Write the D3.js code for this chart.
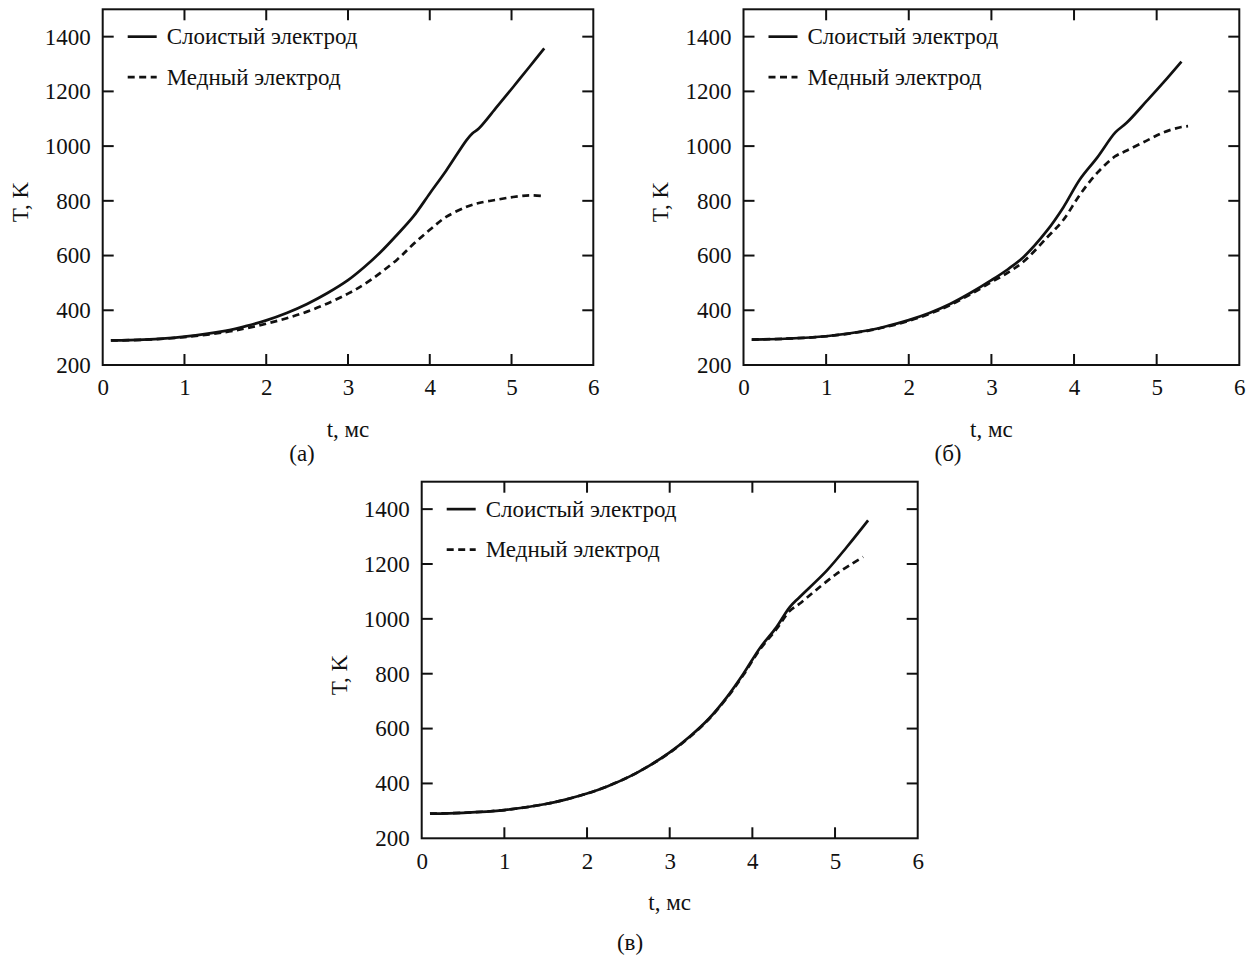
<!DOCTYPE html>
<html>
<head>
<meta charset="utf-8">
<script src="https://cdn.jsdelivr.net/npm/d3@7"></script>
<style>
  html, body { margin: 0; padding: 0; background: #fff; }
  svg { display: block; }
  text { font-family: "Liberation Serif", "Times New Roman", serif; fill: #111; }
</style>
</head>
<body>
<svg id="chart" width="1255" height="955"></svg>
<script>
// ---- Data ----
const seriesNames = ["Слоистый электрод", "Медный электрод"];
const xTicks = [0, 1, 2, 3, 4, 5, 6];
const yTicks = [200, 400, 600, 800, 1000, 1200, 1400];
const xLabel = "t, мс";
const yLabel = "T, K";
const panelLabels = ["(а)", "(б)", "(в)"];

// Panel (а)
const tA_layer = [0.1, 0.5, 1, 1.5, 1.75, 2, 2.25, 2.5, 2.75, 3, 3.2, 3.4, 3.6, 3.8, 4, 4.2, 4.45, 4.52, 4.6, 4.82, 5.02, 5.22, 5.4];
const TA_layer = [290, 293, 304, 325, 342, 363, 390, 423, 463, 510, 558, 613, 676, 743, 827, 910, 1022, 1046, 1064, 1143, 1216, 1290, 1357];
const tA_copper = [0.1, 0.5, 1, 1.5, 1.75, 2, 2.25, 2.5, 2.75, 3, 3.2, 3.6, 3.8, 4, 4.2, 4.45, 4.6, 4.82, 5.02, 5.22, 5.4];
const TA_copper = [290, 292, 302, 320, 334, 351, 371, 395, 425, 461, 495, 585, 642, 694, 741, 778, 792, 804, 814, 820, 817];

// Panel (б)
const tB_layer = [0.1, 0.5, 1, 1.5, 1.75, 2, 2.25, 2.5, 2.75, 3, 3.2, 3.39, 3.67, 3.87, 4.07, 4.28, 4.5, 4.64, 4.88, 5.08, 5.3];
const TB_layer = [293, 296, 305, 326, 343, 364, 390, 423, 464, 510, 550, 595, 690, 776, 878, 958, 1050, 1086, 1165, 1232, 1309];
const tB_copper = [0.1, 0.5, 1, 1.5, 1.75, 2, 2.25, 2.5, 2.75, 3, 3.2, 3.39, 3.67, 3.87, 4.07, 4.28, 4.5, 4.64, 4.88, 5.08, 5.3, 5.38];
const TB_copper = [293, 296, 305, 325, 341, 361, 387, 419, 459, 503, 538, 578, 665, 730, 822, 902, 963, 984, 1020, 1050, 1070, 1073];

// Panel (в)
const tC_layer = [0.1, 0.5, 1, 1.5, 1.75, 2, 2.25, 2.5, 2.75, 3, 3.25, 3.47, 3.69, 3.89, 4.09, 4.29, 4.45, 4.57, 4.9, 5.14, 5.4];
const TC_layer = [290, 293, 303, 325, 342, 363, 390, 423, 464, 513, 573, 635, 714, 799, 893, 969, 1042, 1079, 1176, 1261, 1359];
const tC_copper = [0.1, 0.5, 1, 1.5, 1.75, 2, 2.25, 2.5, 2.75, 3, 3.25, 3.47, 3.69, 3.89, 4.09, 4.29, 4.45, 4.57, 4.75, 5.0, 5.2, 5.34];
const TC_copper = [290, 293, 303, 325, 342, 363, 390, 423, 464, 512, 571, 633, 711, 795, 888, 962, 1028, 1055, 1100, 1160, 1200, 1226];

// ---- Layout ----
const panels = [
  { x0: 102.7, x1: 593.3, y0: 9.3, y1: 365, label: panelLabels[0], labelX: 302, labelY: 453,
    series: [[tA_layer, TA_layer], [tA_copper, TA_copper]] },
  { x0: 743.5, x1: 1239.3, y0: 9.3, y1: 365, label: panelLabels[1], labelX: 948, labelY: 453,
    series: [[tB_layer, TB_layer], [tB_copper, TB_copper]] },
  { x0: 421.7, x1: 917.7, y0: 481.7, y1: 838.3, label: panelLabels[2], labelX: 630, labelY: 942,
    series: [[tC_layer, TC_layer], [tC_copper, TC_copper]] }
];

const svg = d3.select("#chart");
const FONT = 23;
const tickLen = 11;
const dashes = [null, "7,4.5"];
const fontFam = '"Liberation Serif", "Times New Roman", serif';

panels.forEach(p => {
  const x = d3.scaleLinear().domain([0, 6]).range([p.x0, p.x1]);
  const y = d3.scaleLinear().domain([200, 1500]).range([p.y1, p.y0]);
  const g = svg.append("g");

  const bottom = g.append("g").attr("transform", `translate(0,${p.y1})`)
    .call(d3.axisBottom(x).tickValues(xTicks).tickSize(0).tickPadding(14).tickFormat(d3.format("d")));
  bottom.select(".domain").remove();
  bottom.selectAll("text").attr("font-size", FONT).attr("fill", "#111").style("font-family", fontFam);

  const left = g.append("g").attr("transform", `translate(${p.x0},0)`)
    .call(d3.axisLeft(y).tickValues(yTicks).tickSize(0).tickPadding(12).tickFormat(d3.format("d")));
  left.select(".domain").remove();
  left.selectAll("text").attr("font-size", FONT).attr("fill", "#111").style("font-family", fontFam);

  // inward ticks on all four sides
  const innerX = xTicks.filter(v => v > 0 && v < 6);
  const innerY = yTicks.filter(v => v > 200);
  const tk = g.append("g").attr("stroke", "#111").attr("stroke-width", 2);
  innerX.forEach(v => {
    tk.append("line").attr("x1", x(v)).attr("x2", x(v)).attr("y1", p.y1).attr("y2", p.y1 - tickLen);
    tk.append("line").attr("x1", x(v)).attr("x2", x(v)).attr("y1", p.y0).attr("y2", p.y0 + tickLen);
  });
  innerY.forEach(v => {
    tk.append("line").attr("x1", p.x0).attr("x2", p.x0 + tickLen).attr("y1", y(v)).attr("y2", y(v));
    tk.append("line").attr("x1", p.x1).attr("x2", p.x1 - tickLen).attr("y1", y(v)).attr("y2", y(v));
  });

  g.append("rect").attr("x", p.x0).attr("y", p.y0)
    .attr("width", p.x1 - p.x0).attr("height", p.y1 - p.y0)
    .attr("fill", "none").attr("stroke", "#111").attr("stroke-width", 2);

  const line = d3.line().x(d => x(d[0])).y(d => y(d[1])).curve(d3.curveCatmullRom.alpha(0.5));
  p.series.forEach((s, i) => {
    const pts = s[0].map((t, k) => [t, s[1][k]]);
    g.append("path").datum(pts).attr("d", line)
      .attr("fill", "none").attr("stroke", "#111").attr("stroke-width", 2.7)
      .attr("stroke-dasharray", dashes[i]).attr("stroke-linejoin", "round");
  });

  seriesNames.forEach((name, i) => {
    const ly = y(1400) + i * 40.5;
    g.append("line").attr("x1", p.x0 + 25).attr("x2", p.x0 + 54).attr("y1", ly).attr("y2", ly)
      .attr("stroke", "#111").attr("stroke-width", 2.7).attr("stroke-dasharray", dashes[i]);
    g.append("text").attr("x", p.x0 + 64).attr("y", ly).attr("dy", "0.34em")
      .attr("font-size", FONT).text(name);
  });

  g.append("text").attr("x", (p.x0 + p.x1) / 2).attr("y", p.y1 + 72)
    .attr("text-anchor", "middle").attr("font-size", FONT).text(xLabel);
  g.append("text")
    .attr("transform", `translate(${p.x0 - 83},${(p.y0 + p.y1) / 2 + 15}) rotate(-90)`)
    .attr("text-anchor", "middle").attr("dy", "0.34em").attr("font-size", FONT).text(yLabel);
  g.append("text").attr("x", p.labelX).attr("y", p.labelY).attr("dy", "0.34em")
    .attr("text-anchor", "middle").attr("font-size", FONT).text(p.label);
});
</script>
</body>
</html>
